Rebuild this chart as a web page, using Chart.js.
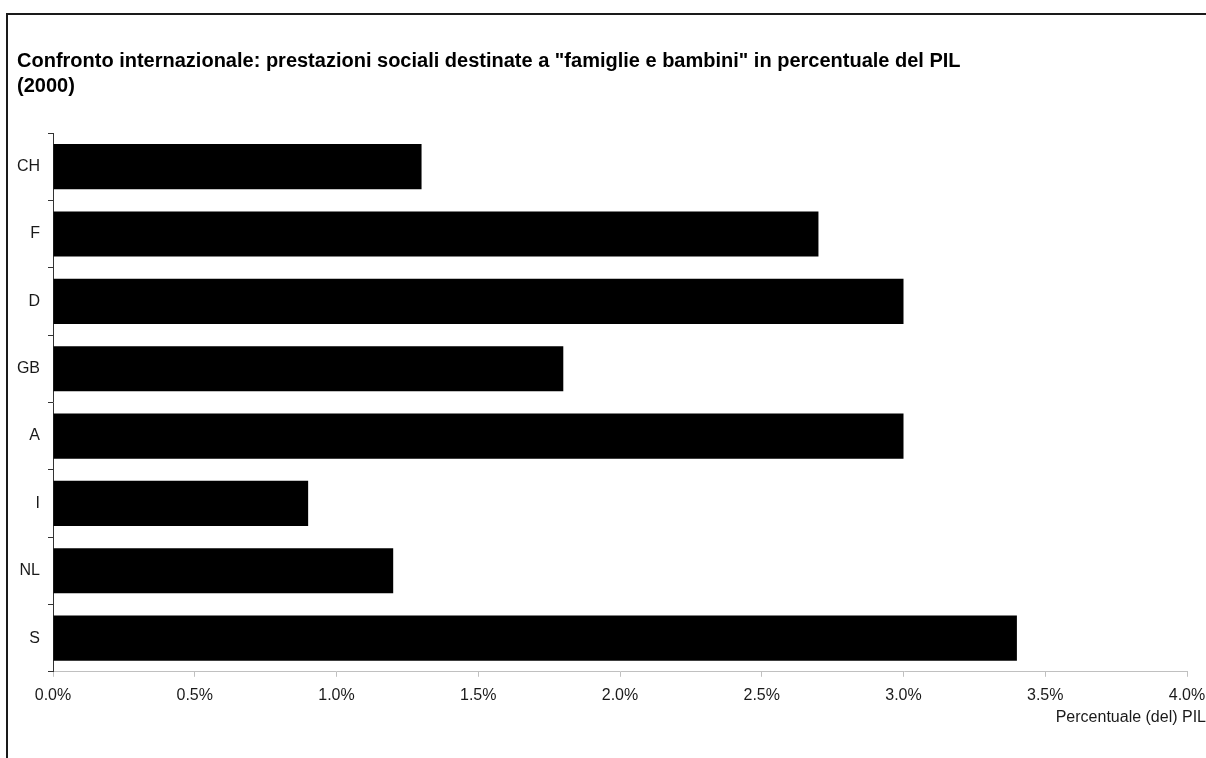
<!DOCTYPE html>
<html lang="it">
<head>
    <meta charset="UTF-8">
    <title>Prestazioni sociali famiglie e bambini</title>
    <script src="https://cdn.jsdelivr.net/npm/chart.js"></script>
    <style>
        html, body {
            margin: 0;
            padding: 0;
            background: #fff;
            overflow: hidden;
        }
        #chart-container {
            position: relative;
            width: 1206px;
            height: 758px;
        }
        /* cornice del grafico (esce dal bordo a destra e in basso) */
        #frame {
            position: absolute;
            left: 6px;
            top: 13px;
            width: 1300px;
            height: 900px;
            border-top: 2px solid #1a1a1a;
            border-left: 2px solid #1a1a1a;
            pointer-events: none;
        }
    </style>
</head>
<body>
    <div id="chart-container">
        <canvas id="myChart"></canvas>
        <div id="frame"></div>
    </div>

    <script>
        // dati
        const paesi = ['CH', 'F', 'D', 'GB', 'A', 'I', 'NL', 'S'];
        const valori = [1.3, 2.7, 3.0, 1.8, 3.0, 0.9, 1.2, 3.4];   // % del PIL
        const titolo = [
            'Confronto internazionale: prestazioni sociali destinate a "famiglie e bambini" in percentuale del PIL',
            '(2000)'
        ];
        const titoloAsse = 'Percentuale (del) PIL';

        const FONT = "'Liberation Sans', Arial, sans-serif";

        const ctx = document.getElementById('myChart').getContext('2d');
        new Chart(ctx, {
            type: 'bar',
            data: {
                labels: paesi,
                datasets: [{
                    data: valori,
                    backgroundColor: '#000',
                    borderWidth: 0,
                    categoryPercentage: 1,
                    barPercentage: 0.67
                }]
            },
            options: {
                indexAxis: 'y',
                responsive: true,
                maintainAspectRatio: false,
                animation: false,
                layout: {
                    padding: { left: 17, right: 0, top: 48.5, bottom: 0 }
                },
                plugins: {
                    legend: { display: false },
                    tooltip: { enabled: false },
                    title: {
                        display: true,
                        text: titolo,
                        align: 'start',
                        color: '#000',
                        font: { family: FONT, size: 20, weight: 'bold', lineHeight: 1.25 },
                        padding: { top: 0, bottom: 34.5 }
                    },
                    subtitle: {
                        display: true,
                        text: titoloAsse,
                        position: 'bottom',
                        align: 'end',
                        color: '#1a1a1a',
                        font: { family: FONT, size: 16, lineHeight: 1.2 },
                        padding: { top: 0, bottom: 31 }
                    }
                },
                scales: {
                    x: {
                        min: 0,
                        max: 4,
                        ticks: {
                            stepSize: 0.5,
                            color: '#1a1a1a',
                            padding: 9,
                            font: { family: FONT, size: 16 },
                            maxRotation: 0,
                            callback: v => v.toFixed(1) + '%'
                        },
                        grid: {
                            drawOnChartArea: false,
                            drawTicks: true,
                            tickLength: 5,
                            color: '#c0c0c0'
                        },
                        border: { display: true, color: '#c0c0c0', width: 1 },
                        // asse più basso e meno margine a destra, come nell'originale
                        afterFit: scale => {
                            scale.height = 36;
                            scale.paddingRight = 19;
                        }
                    },
                    y: {
                        ticks: {
                            color: '#1a1a1a',
                            padding: 8,
                            font: { family: FONT, size: 16 }
                        },
                        grid: {
                            offset: true,
                            drawOnChartArea: false,
                            drawTicks: true,
                            tickLength: 5,
                            color: '#333'
                        },
                        border: { display: true, color: '#333', width: 1 },
                        afterFit: scale => { scale.width = 36; }
                    }
                }
            }
        });
    </script>
</body>
</html>
